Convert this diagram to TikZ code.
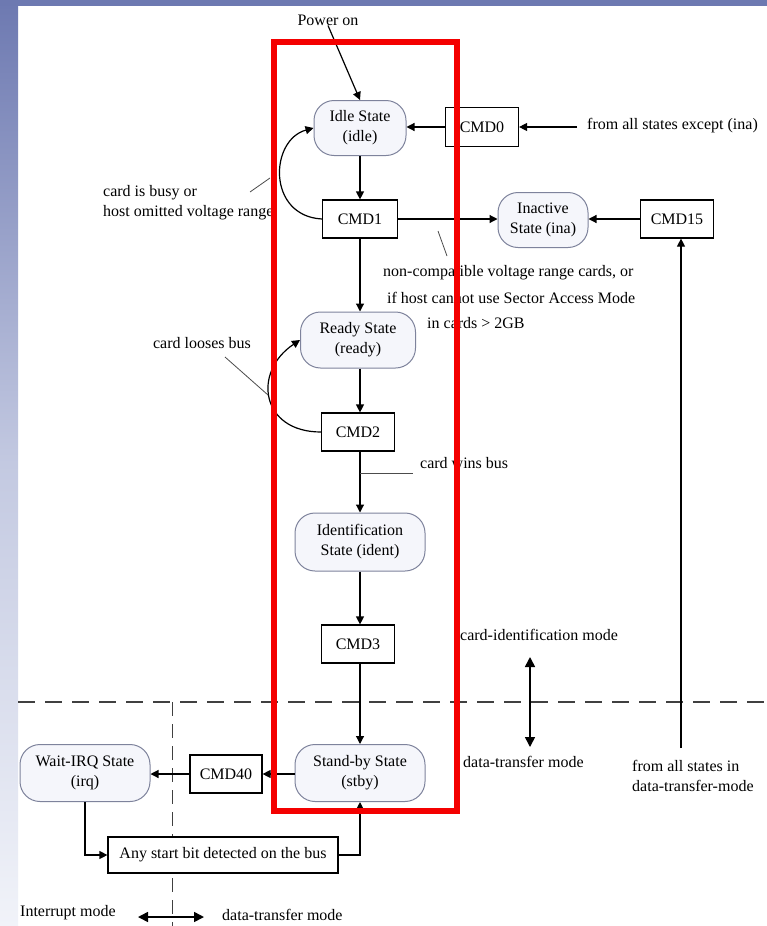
\documentclass[tikz,border=0pt]{standalone}
\usepackage{fontspec}
\setmainfont{Liberation Serif}
\usetikzlibrary{arrows.meta,calc}
\definecolor{stripblue}{HTML}{6D79B1}
\definecolor{stripend}{HTML}{F1F3F9}
\definecolor{stripmid}{HTML}{C3C9E1}
\definecolor{stateborder}{HTML}{7E839C}
\definecolor{statefill}{HTML}{F5F6FB}
\definecolor{redbox}{HTML}{F40000}
\begin{document}
\begin{tikzpicture}[x=1pt,y=-1pt,
  every node/.style={font=\fontsize{16}{20}\selectfont},
  st/.style={draw=stateborder, fill=statefill, line width=1pt, rounded corners=20pt, align=center, inner sep=0pt},
  cmdbox/.style={draw=black, fill=white, line width=1.2pt, align=center, inner sep=0pt, minimum width=73pt, minimum height=38pt},
  lbl/.style={inner sep=0pt, align=left},
  arr/.style={line width=1.2pt, -{Triangle[length=8pt,width=8pt]}},
  darr/.style={line width=1.6pt, {Triangle[length=10pt,width=10pt]}-{Triangle[length=10pt,width=10pt]}},
  ptr/.style={line width=0.8pt, draw=black!70}
]
\useasboundingbox (0,0) rectangle (767,926);
% background
\fill[white] (0,0) rectangle (767,926);
\shade[top color=stripblue, bottom color=stripend, middle color=stripmid] (0,0) rectangle (18,926);
\fill[stripblue] (0,0) rectangle (767,6);

% mode separators
\draw[line width=1.4pt, black!75, dash pattern=on 17pt off 10pt] (18,702) -- (767,702);
\draw[line width=1pt, black!75, dash pattern=on 14pt off 8pt] (172,702) -- (172,926);

% states
\node[st, minimum width=92pt, minimum height=55pt] (idle) at (360,128) {Idle State\\(idle)};
\node[st, minimum width=90pt, minimum height=55pt] (inact) at (543,220) {Inactive\\State (ina)};
\node[st, minimum width=115pt, minimum height=56pt] (ready) at (358,340) {Ready State\\(ready)};
\node[st, minimum width=130pt, minimum height=58pt] (ident) at (360,542) {Identification\\State (ident)};
\node[st, minimum width=130pt, minimum height=57pt] (stby) at (360,773) {Stand-by State\\(stby)};
\node[st, minimum width=130pt, minimum height=57pt] (wirq) at (85,773) {Wait-IRQ State\\(irq)};

% command boxes
\node[cmdbox, minimum height=39pt] (cmd0) at (482,127) {CMD0};
\node[cmdbox, minimum width=75pt] (cmd1) at (360,219) {CMD1};
\node[cmdbox] (cmd15) at (677,219) {CMD15};
\node[cmdbox] (cmd2) at (358,432) {CMD2};
\node[cmdbox] (cmd3) at (358,644) {CMD3};
\node[cmdbox, minimum width=72pt] (cmd40) at (226,774) {CMD40};
\node[cmdbox, minimum width=230pt, minimum height=36pt] (anybit) at (223,855) {Any start bit detected on the bus};

% labels
\node[lbl] (power) at (328,20) {Power on};
\node[lbl, anchor=west] (fromexc) at (587,126) {from all states except (ina)};
\node[lbl, anchor=west] (busy) at (103,203) {card is busy or\\host omitted voltage range};
\node[lbl, anchor=west] (nc1) at (383,273) {non-compatible voltage range cards, or};
\node[lbl, anchor=west] (nc2) at (387,298) {if host cannot use Sector Access Mode};
\node[lbl, anchor=west] (nc3) at (427,323) {in cards > 2GB};
\node[lbl] (looses) at (202,343) {card looses bus};
\node[lbl, anchor=west] (wins) at (420,463) {card wins bus};
\node[lbl, anchor=west] (cidmode) at (460,635) {card-identification mode};
\node[lbl, anchor=west] (dtmode) at (463,762) {data-transfer mode};
\node[lbl, anchor=west] (fromall) at (632,776) {from all states in\\data-transfer-mode};
\node[lbl, anchor=west] (intmode) at (20,913) {Interrupt mode};
\node[lbl, anchor=west] (dtmode2) at (222,915) {data-transfer mode};

% coordinates for free ends
\coordinate (excstart) at (577,127);
\coordinate (fa) at (681,748);
\coordinate (cidtop) at (530,657);
\coordinate (cidbot) at (530,747);
\coordinate (intl) at (138,917);
\coordinate (intr) at (204,917);
\coordinate (winsA) at (360,473);
\coordinate (winsB) at (413,473);
\coordinate (busyA) at (250,192);
\coordinate (busyB) at (270,178);
\coordinate (loosA) at (225,357);
\coordinate (loosB) at (268,395);
\coordinate (ncA) at (438,231);
\coordinate (ncB) at (447,256);

% main chain
\draw[arr] (power.south) -- (idle.north);
\draw[arr] (idle.south) -- (cmd1.north);
\draw[arr] (cmd1.south) -- (cmd1.south |- ready.north);
\draw[arr] (cmd1.south |- ready.south) -- (cmd1.south |- cmd2.north);
\draw[arr] (cmd1.south |- cmd2.south) -- (ident.north);
\draw[arr] (ident.south) -- (ident.south |- cmd3.north);
\draw[arr] (ident.south |- cmd3.south) -- (stby.north);

% side transitions
\draw[arr] (excstart) -- (cmd0.east);
\draw[arr] (cmd0.west) -- (idle.east |- cmd0.west);
\draw[arr] (cmd1.east) -- (inact.west |- cmd1.east);
\draw[arr] (cmd15.west) -- (inact.east |- cmd15.west);
\draw[arr] (fa) -- (fa |- cmd15.south);
\draw[arr] (stby.west |- cmd40.east) -- (cmd40.east);
\draw[arr] (cmd40.west) -- (wirq.east |- cmd40.west);
\draw[arr] (wirq.south) |- (anybit.west);
\draw[arr] (anybit.east) -| (stby.south);

% loops
\draw[arr] (cmd1.west) .. controls +(-55,-3) and +(-44,12) .. (idle.west);
\draw[arr] (cmd2.west) .. controls +(-60,0) and +(-48,32) .. (ready.west);

% pointers
\draw[ptr] (busyA) -- (busyB);
\draw[ptr] (loosA) -- (loosB);
\draw[ptr] (ncA) -- (ncB);
\draw[ptr] (winsA) -- (winsB);

% mode arrows
\draw[darr] (cidtop) -- (cidbot);
\draw[darr] (intl) -- (intr);

% red highlight
\draw[redbox, line width=6pt] (274,42) rectangle (457,811);
\end{tikzpicture}
\end{document}
